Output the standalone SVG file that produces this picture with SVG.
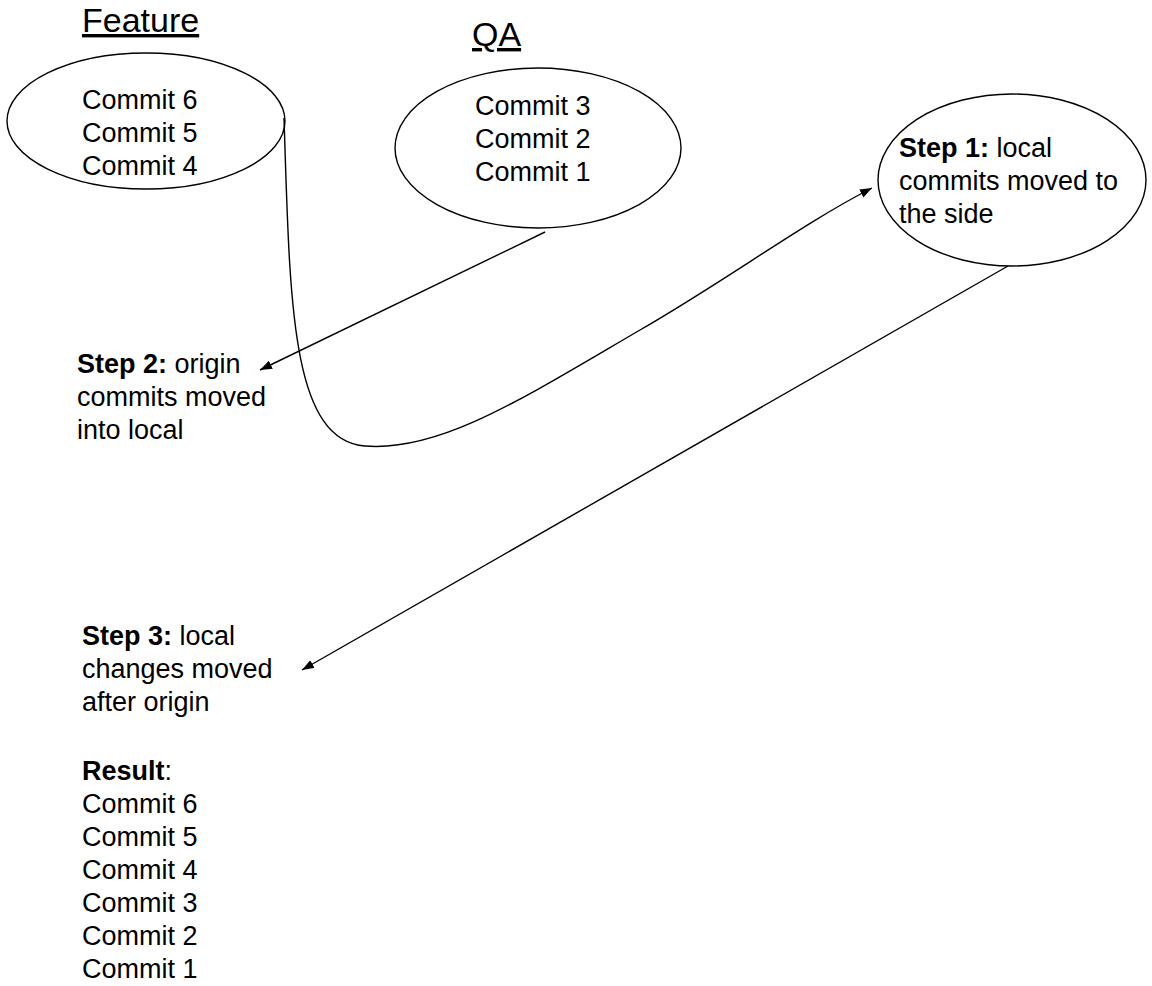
<svg xmlns="http://www.w3.org/2000/svg" width="1152" height="986" viewBox="0 0 1152 986">
<style>
  .t{font-family:"Liberation Sans",Arial,sans-serif;font-size:27px;fill:#000}
  .h{font-family:"Liberation Sans",Arial,sans-serif;font-size:34px;fill:#000;text-decoration:underline}
  .b{font-weight:bold}
  .shape{fill:#fff;stroke:#000;stroke-width:1.4}
  .conn{fill:none;stroke:#000;stroke-width:1.4}
</style>
<defs>
  <marker id="arr" markerUnits="userSpaceOnUse" markerWidth="14" markerHeight="10" refX="12" refY="4.5" orient="auto">
    <path d="M0,0 L12,4.5 L0,9 z" fill="#000"/>
  </marker>
</defs>
<rect width="1152" height="986" fill="#fff"/>

<g id="feature-title"><text class="h" x="82" y="32">Feature</text></g>
<g id="qa-title"><text class="h" x="472" y="46">QA</text></g>

<g id="feature">
  <ellipse class="shape" cx="146" cy="121" rx="139" ry="68"/>
  <text class="t" x="82" y="109">Commit 6</text>
  <text class="t" x="82" y="142">Commit 5</text>
  <text class="t" x="82" y="175">Commit 4</text>
</g>

<g id="qa">
  <ellipse class="shape" cx="538" cy="148" rx="143" ry="80"/>
  <text class="t" x="475" y="115">Commit 3</text>
  <text class="t" x="475" y="148">Commit 2</text>
  <text class="t" x="475" y="181">Commit 1</text>
</g>

<g id="step1">
  <ellipse class="shape" cx="1012" cy="180" rx="134" ry="86"/>
  <text class="t" x="899" y="157"><tspan class="b">Step 1:</tspan> local</text>
  <text class="t" x="899" y="190">commits moved to</text>
  <text class="t" x="899" y="223">the side</text>
</g>

<g id="step2">
  <text class="t" x="77" y="373"><tspan class="b">Step 2:</tspan> origin</text>
  <text class="t" x="77" y="406">commits moved</text>
  <text class="t" x="77" y="439">into local</text>
</g>

<g id="step3">
  <text class="t" x="82" y="645"><tspan class="b">Step 3:</tspan> local</text>
  <text class="t" x="82" y="678">changes moved</text>
  <text class="t" x="82" y="711">after origin</text>
</g>

<g id="result">
  <text class="t" x="82" y="780"><tspan class="b">Result</tspan>:</text>
  <text class="t" x="82" y="813">Commit 6</text>
  <text class="t" x="82" y="846">Commit 5</text>
  <text class="t" x="82" y="879">Commit 4</text>
  <text class="t" x="82" y="912">Commit 3</text>
  <text class="t" x="82" y="945">Commit 2</text>
  <text class="t" x="82" y="978">Commit 1</text>
</g>

<g id="connectors">
  <path class="conn" marker-end="url(#arr)" d="M284,118 C290,300 290,440 365,446 C440,452 520,400 640,330 C730,278 800,225 872,188"/>
  <path class="conn" marker-end="url(#arr)" d="M545,232 L260,370"/>
  <path class="conn" marker-end="url(#arr)" d="M1008,266 L302,670"/>
</g>
</svg>
